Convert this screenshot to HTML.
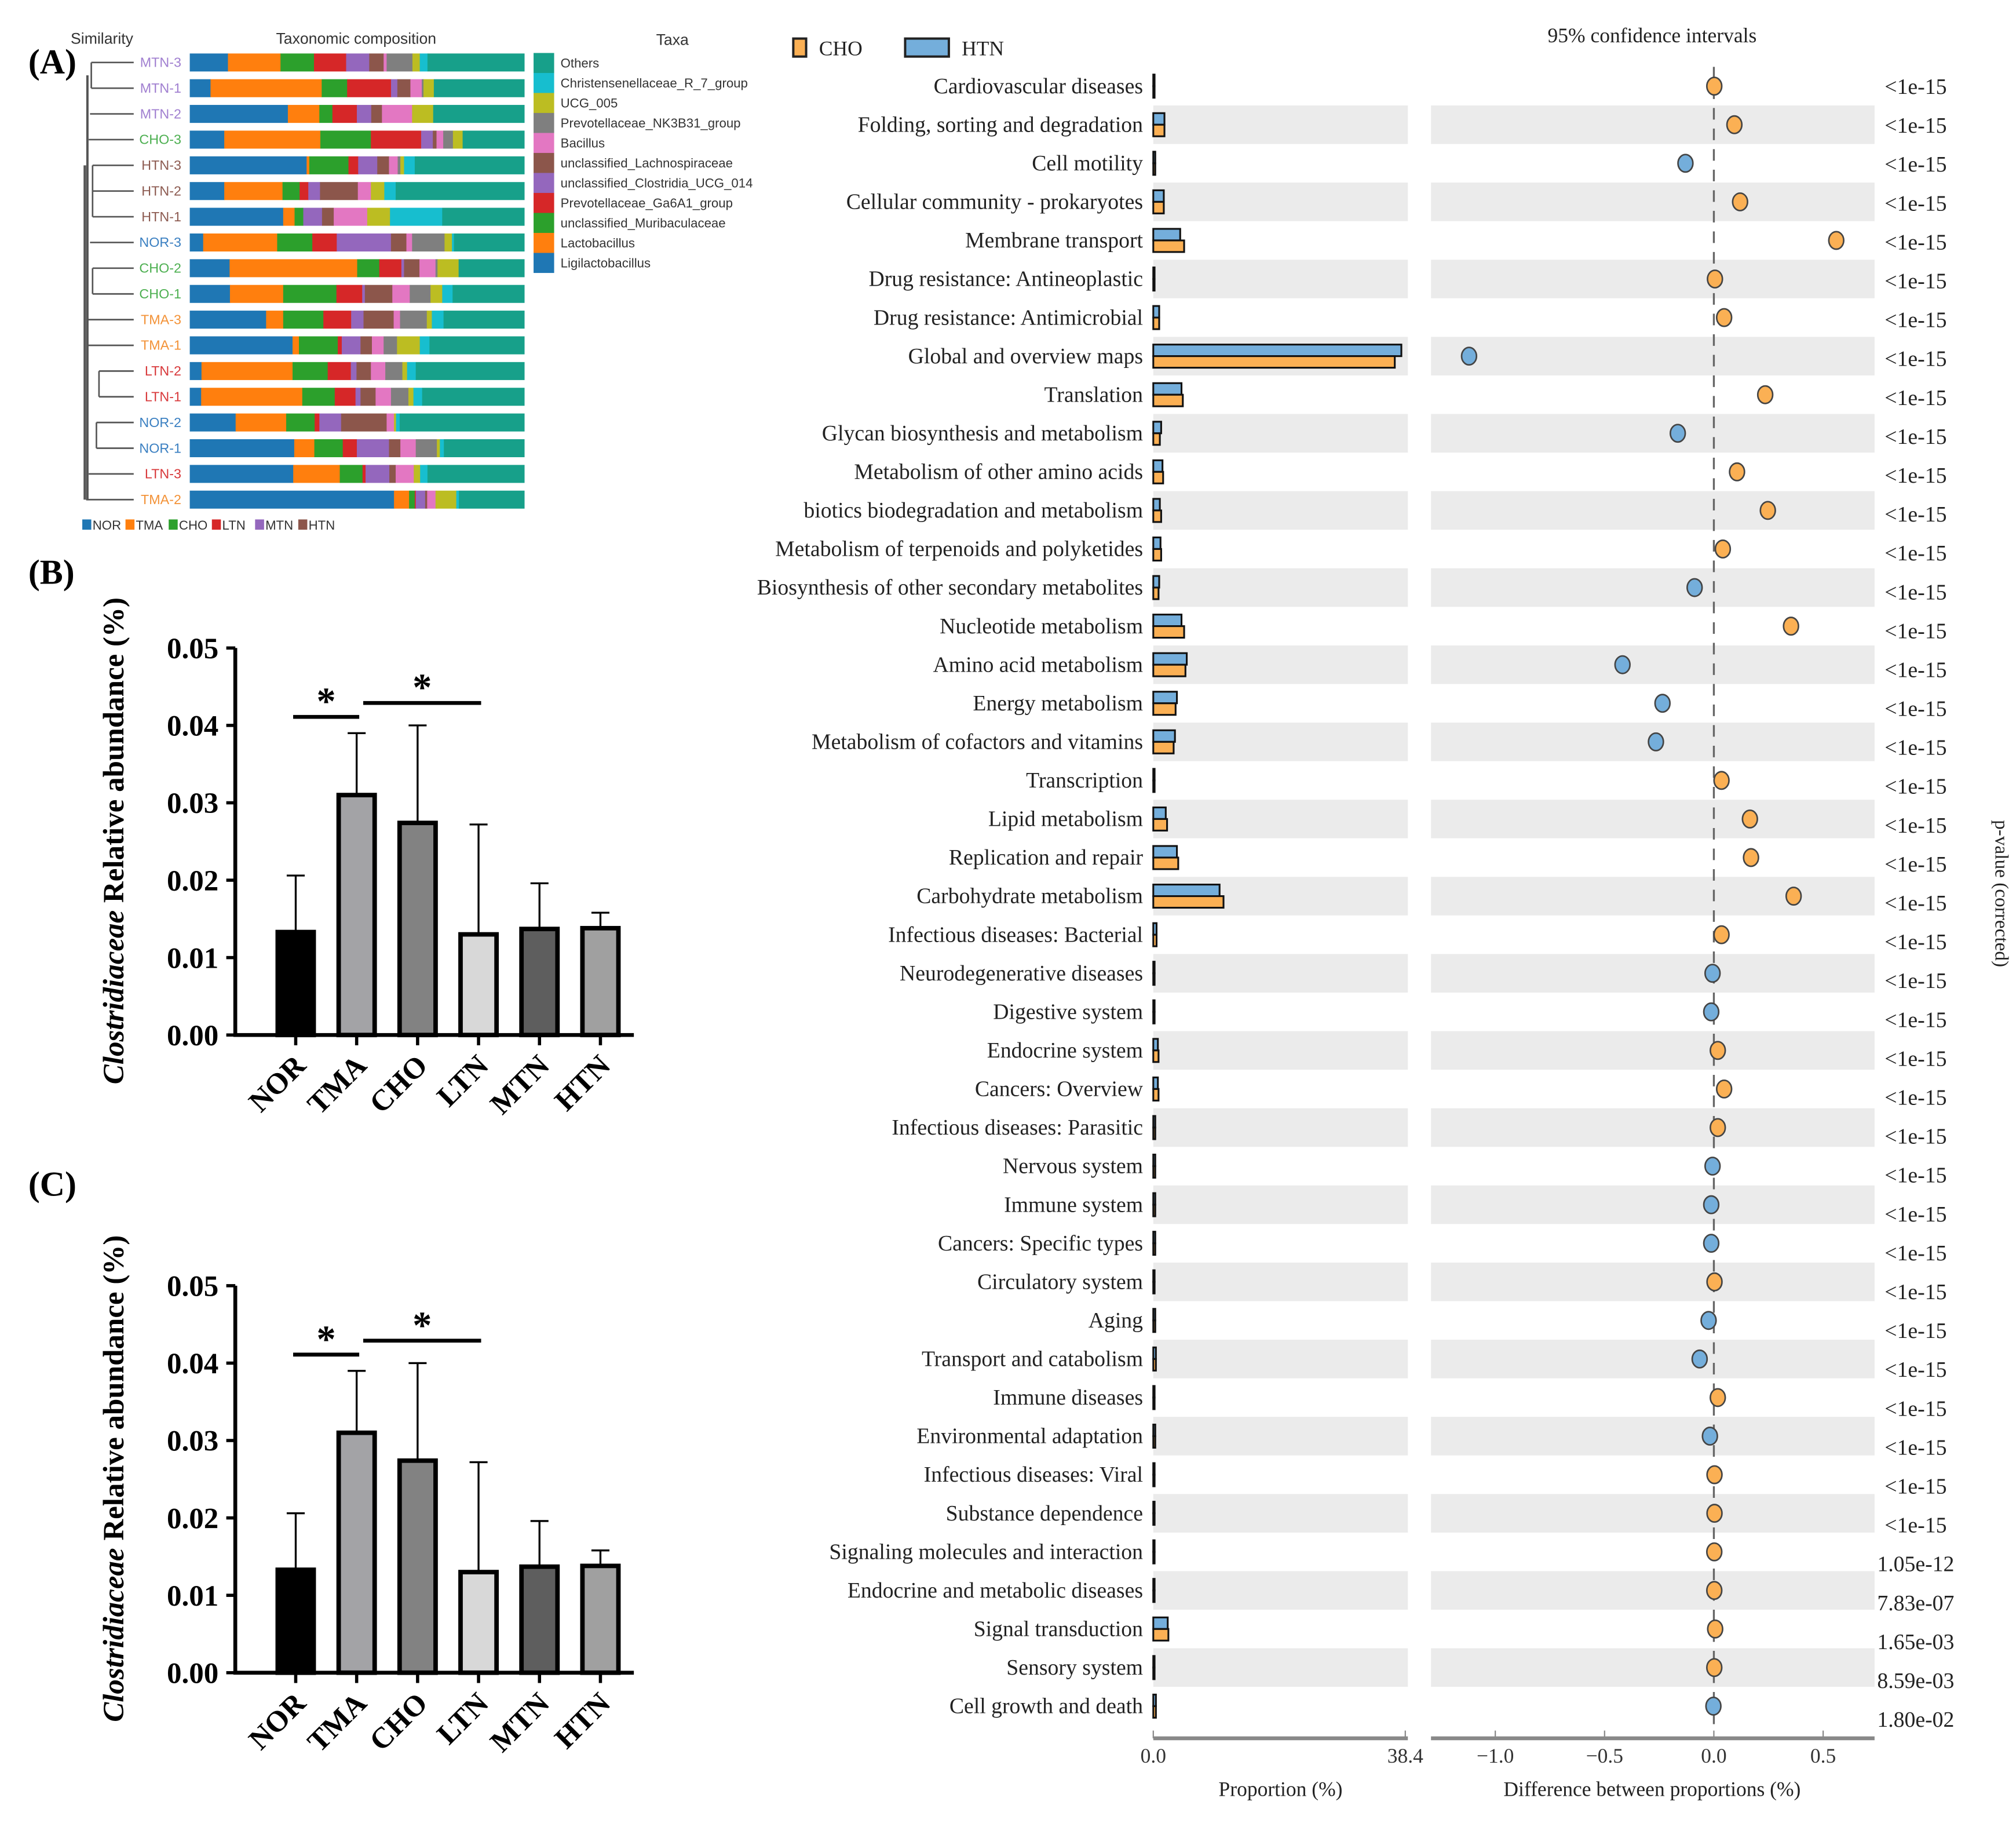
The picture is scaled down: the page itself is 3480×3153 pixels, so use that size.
<!DOCTYPE html>
<html><head><meta charset="utf-8"><style>
html,body{margin:0;padding:0;background:#fff;}
svg{display:block;}
text{font-family:"Liberation Serif",serif;}
.sans{font-family:"Liberation Sans",sans-serif;}
</style></head><body>
<svg id="fig" xmlns="http://www.w3.org/2000/svg" width="3480" height="3153" viewBox="0 0 1568 1421" preserveAspectRatio="none">
<rect x="0" y="0" width="1568" height="1421" fill="#fff"/>
<text x="22" y="57" font-size="27" font-weight="bold">(A)</text>
<text x="22" y="454" font-size="27" font-weight="bold">(B)</text>
<text x="22" y="930" font-size="27" font-weight="bold">(C)</text>
<text class="sans" x="55" y="34" font-size="12" fill="#333">Similarity</text>
<text class="sans" x="277" y="34" font-size="12" fill="#333" text-anchor="middle">Taxonomic composition</text>
<text class="sans" x="523" y="35" font-size="12" fill="#333" text-anchor="middle">Taxa</text>
<g id="panelA"></g>
<g id="panelB"></g>
<g id="panelC"></g>
<g id="panelD"></g>
</svg>
<script>
// ---------- Panel A data ----------
const samples = ["MTN-3","MTN-1","MTN-2","CHO-3","HTN-3","HTN-2","HTN-1","NOR-3","CHO-2","CHO-1","TMA-3","TMA-1","LTN-2","LTN-1","NOR-2","NOR-1","LTN-3","TMA-2"];
const taxa = ["Ligilactobacillus","Lactobacillus","unclassified_Muribaculaceae","Prevotellaceae_Ga6A1_group","unclassified_Clostridia_UCG_014","unclassified_Lachnospiraceae","Bacillus","Prevotellaceae_NK3B31_group","UCG_005","Christensenellaceae_R_7_group"];
const taxaColors = ["#1f77b4","#ff7f0e","#2ca02c","#d62728","#9467bd","#8c564b","#e377c2","#7f7f7f","#bcbd22","#17becf"];
const othersColor = "#17a08a";
const abund = [
 [11.4,15.7,10.0,9.6,6.9,4.3,0.9,7.7,2.2,2.3],
 [6.2,33.2,7.6,13.1,1.9,3.9,3.4,0.5,3.1,0],
 [29.3,9.4,3.9,7.3,4.3,3.2,9.0,0,6.3,0],
 [10.3,28.7,15.1,15.0,3.5,1.1,2.0,2.9,2.9,0],
 [34.9,0.8,11.7,2.9,5.7,3.5,2.6,0.8,1.1,3.2],
 [10.3,17.4,5.1,2.6,3.5,11.3,3.9,0,4.0,3.4],
 [27.9,3.4,2.6,0,5.6,3.5,10.0,0,6.8,15.6],
 [4.0,22.1,10.5,7.3,16.2,4.6,1.7,9.7,2.2,0.6],
 [11.9,38.1,6.6,6.6,0.8,4.6,4.8,0.6,6.3,0],
 [12.0,15.9,15.9,7.7,0.8,8.2,5.2,6.2,3.5,3.1],
 [22.8,5.1,12.0,8.3,3.7,9.0,1.9,8.0,1.5,3.5],
 [30.7,1.9,11.6,1.2,5.6,3.4,3.5,4.0,6.8,2.9],
 [3.5,27.2,10.5,6.9,1.7,4.3,4.3,5.1,1.4,2.6],
 [3.4,30.2,9.7,6.2,1.5,4.5,4.6,5.2,1.5,2.6],
 [13.7,15.1,8.5,1.4,6.5,13.6,2.2,0,0.6,1.1],
 [31.2,6.0,8.5,4.2,9.6,3.4,4.6,6.3,0.9,1.2],
 [30.9,13.9,6.8,0.9,7.1,1.9,5.4,0,1.9,2.2],
 [61.0,4.5,1.7,0.3,2.8,0.6,2.5,0,6.2,0.8]
];
const groupColors = {NOR:"#3a7fc1",TMA:"#f39237",CHO:"#4caf50",LTN:"#d8383a",MTN:"#a07fd0",HTN:"#8c5a50"};
const groups = ["NOR","TMA","CHO","LTN","MTN","HTN"];

const NS = "http://www.w3.org/2000/svg";
function mk(tag, attrs, parent){ const e=document.createElementNS(NS,tag); for(const k in attrs) e.setAttribute(k,attrs[k]); if(parent) parent.appendChild(e); return e; }

(function(){
 const g=document.getElementById('panelA');
 const x0=147.6, W=260.4, rowY=i=>48.6+i*20, bh=14;
 samples.forEach((s,i)=>{
  const yc=rowY(i);
  let x=x0;
  const row=abund[i];
  row.forEach((v,j)=>{
   const w=v/100*W;
   if(w>0){
    const r=mk('rect',{x:x,y:yc-bh/2,width:w+0.3,height:bh,fill:taxaColors[j]},g);
    
    
   }
   x+=w;
  });
  const ro=mk('rect',{x:x,y:yc-bh/2,width:Math.max(0,x0+W-x),height:bh,fill:othersColor},g);
  
  
  const t=mk('text',{x:141,y:yc+3.5,'font-size':10.5,'text-anchor':'end',fill:groupColors[s.slice(0,3)],class:'sans'},g);
  t.textContent=s;
  
  
 });
 const tree=mk('g',{stroke:'#555','stroke-width':1.2,fill:'none'},g);
 
 
 const joins=[71,71,70,69,72,72,72,70,72,72,68,68,77,77,75,75,69,67];
 samples.forEach((s,i)=>{ mk('line',{x1:joins[i],y1:rowY(i),x2:104,y2:rowY(i)},tree); });
 const pairs=[[0,1,71],[4,6,72],[8,9,72],[12,13,77],[14,15,75]];
 pairs.forEach(p=>mk('line',{x1:p[2],y1:rowY(p[0]),x2:p[2],y2:rowY(p[1])},tree));
 mk('line',{x1:68,y1:rowY(0.5),x2:68,y2:rowY(17),'stroke-width':1.8},tree);
 mk('line',{x1:66,y1:rowY(4),x2:66,y2:rowY(17),'stroke-width':2},tree);
 const leg=['Others'].concat(taxa.slice().reverse());
 const legC=[othersColor].concat(taxaColors.slice().reverse());
 leg.forEach((n,k)=>{
  const y=49+k*15.55;
  const r=mk('rect',{x:415,y:y-7.8,width:16,height:15.6,fill:legC[k]},g);
  
  
  const t=mk('text',{x:436,y:y+3.5,'font-size':10,fill:'#333',class:'sans'},g);
  t.textContent=n;
  
  
 });
 let gx=64;
 groups.forEach(gr=>{
  const r=mk('rect',{x:gx,y:404,width:7,height:8,fill:taxaColors[groups.indexOf(gr)]},g);
  
  
  const t=mk('text',{x:gx+8,y:412,'font-size':10,fill:'#333',class:'sans'},g);
  t.textContent=gr;
  
  
  gx+= gr.length*7.2+12;
 });
})();

// ---------- Panels B & C data ----------
const barCats = ["NOR","TMA","CHO","LTN","MTN","HTN"];
const barMeans = [0.0133,0.0310,0.0274,0.0130,0.0137,0.0138];
const barErrs = [0.0073,0.0080,0.0126,0.0142,0.0059,0.0020];
const barFills = ["#000000","#a3a3a6","#828282","#d8d8d8","#5e5e5e","#a0a0a0"];
const yTicks = [0,0.01,0.02,0.03,0.04,0.05];
const sigPairs = [[0,1,0.0411],[1.15,3,0.0429]];

function drawBars(gid, top, name){
 const g=document.getElementById(gid);
 const y0=top+301, ppu=301/0.05;
 const Y=v=>y0-v*ppu;
 const X=i=>230+i*47.4;
 const ax=mk('path',{d:`M183,${Y(0.05)} V${y0} H493`,stroke:'#000','stroke-width':3,fill:'none'},g);
 
 
 yTicks.forEach(v=>{
  mk('line',{x1:176,y1:Y(v),x2:183,y2:Y(v),stroke:'#000','stroke-width':2.5},g);
  const t=mk('text',{x:170,y:Y(v)+8,'font-size':23,'font-weight':'bold','text-anchor':'end'},g);
  t.textContent=v.toFixed(2);
  
  
 });
 barCats.forEach((c,i)=>{
  const x=X(i);
  const e=mk('path',{d:`M${x},${Y(barMeans[i])} V${Y(barMeans[i]+barErrs[i])} M${x-7},${Y(barMeans[i]+barErrs[i])} H${x+7}`,stroke:'#000','stroke-width':1.5,fill:'none'},g);
  
  
  const r=mk('rect',{x:x-14,y:Y(barMeans[i]),width:28,height:y0-Y(barMeans[i]),fill:barFills[i],stroke:'#000','stroke-width':3.5},g);
  
  
  mk('line',{x1:x,y1:y0,x2:x,y2:y0+8,stroke:'#000','stroke-width':2.5},g);
  const t=mk('text',{x:x+9,y:y0+25,'font-size':23,'font-weight':'bold','text-anchor':'end',transform:`rotate(-45 ${x+9} ${y0+25})`},g);
  t.textContent=c;
  
  
 });
 sigPairs.forEach((p,k)=>{
  const xa=X(p[0])-2, xb=X(p[1])+2, y=Y(p[2]);
  const l=mk('line',{x1:xa,y1:y,x2:xb,y2:y,stroke:'#000','stroke-width':3},g);
  
  
  const s=mk('text',{x:(xa+xb)/2,y:y-2,'font-size':30,'font-weight':'bold','text-anchor':'middle'},g);
  s.textContent='*';
  
  
 });
 const tt=mk('text',{x:0,y:0,'font-size':23,'font-weight':'bold','text-anchor':'middle',transform:`translate(96 ${top+150}) rotate(-90)`},g);
 
 
 const ts=mk('tspan',{'font-style':'italic'},tt); ts.textContent='Clostridiaceae';
 const ts2=mk('tspan',{},tt); ts2.textContent=' Relative abundance (%)';
}
drawBars('panelB',504,'panel-b');
drawBars('panelC',1000,'panel-c');

// ---------- Panel D data ----------
const pathways = ["Cardiovascular diseases","Folding, sorting and degradation","Cell motility","Cellular community - prokaryotes","Membrane transport","Drug resistance: Antineoplastic","Drug resistance: Antimicrobial","Global and overview maps","Translation","Glycan biosynthesis and metabolism","Metabolism of other amino acids","biotics biodegradation and metabolism","Metabolism of terpenoids and polyketides","Biosynthesis of other secondary metabolites","Nucleotide metabolism","Amino acid metabolism","Energy metabolism","Metabolism of cofactors and vitamins","Transcription","Lipid metabolism","Replication and repair","Carbohydrate metabolism","Infectious diseases: Bacterial","Neurodegenerative diseases","Digestive system","Endocrine system","Cancers: Overview","Infectious diseases: Parasitic","Nervous system","Immune system","Cancers: Specific types","Circulatory system","Aging","Transport and catabolism","Immune diseases","Environmental adaptation","Infectious diseases: Viral","Substance dependence","Signaling molecules and interaction","Endocrine and metabolic diseases","Signal transduction","Sensory system","Cell growth and death"];
const htnProp = [0.05,1.7,0.3,1.6,4.1,0.1,0.9,37.8,4.3,1.2,1.4,1.0,1.1,0.9,4.3,5.1,3.6,3.3,0.2,1.9,3.6,10.1,0.5,0.2,0.2,0.7,0.7,0.3,0.3,0.3,0.3,0.2,0.3,0.4,0.2,0.3,0.2,0.2,0.2,0.2,2.2,0.1,0.4];
const choProp = [0.05,1.7,0.3,1.6,4.7,0.1,0.9,36.8,4.5,1.0,1.5,1.2,1.2,0.8,4.7,4.9,3.4,3.1,0.2,2.1,3.8,10.7,0.5,0.2,0.2,0.8,0.8,0.3,0.3,0.3,0.3,0.2,0.3,0.4,0.2,0.3,0.2,0.2,0.2,0.2,2.3,0.1,0.4];
const diffs = [0.002,0.094,-0.13,0.12,0.56,0.005,0.047,-1.12,0.235,-0.165,0.106,0.247,0.041,-0.088,0.353,-0.418,-0.235,-0.265,0.035,0.165,0.17,0.365,0.035,-0.006,-0.012,0.018,0.047,0.018,-0.006,-0.012,-0.012,0.003,-0.024,-0.065,0.018,-0.018,0.003,0.003,0.002,0.002,0.006,0.002,-0.002];
const pvals = Array(38).fill("<1e-15").concat(["1.05e-12","7.83e-07","1.65e-03","8.59e-03","1.80e-02"]);
const propTicks = [0,38.4];
const diffTicks = [-1.0,-0.5,0.0,0.5];

(function(){
 const g=document.getElementById('panelD');
 const ORANGE='#fbb054', BLUE='#74aedb';
 const rowY=i=>67+i*30;
 const PX=v=>897+v*(196/38.4);
 const DX=v=>1333+v*170;
 pathways.forEach((p,i)=>{
  if(i%2===1){
   const b1=mk('rect',{x:897,y:rowY(i)-15,width:198,height:30,fill:'#ebebeb'},g);
   
   
   const b2=mk('rect',{x:1113,y:rowY(i)-15,width:345,height:30,fill:'#ebebeb'},g);
   
   
  }
 });
 const zl=mk('line',{x1:DX(0),y1:52,x2:DX(0),y2:1345,stroke:'#666','stroke-width':1.5,'stroke-dasharray':'9,7'},g);
 
 
 pathways.forEach((p,i)=>{
  const y=rowY(i);
  const t=mk('text',{x:889,y:y+5.5,'font-size':17,'text-anchor':'end',fill:'#222'},g);
  t.textContent=p;
  
  
  const rb=mk('rect',{x:PX(0),y:y-9,width:Math.max(1,PX(htnProp[i])-PX(0)),height:9,fill:BLUE,stroke:'#111','stroke-width':1.4},g);
  
  
  const ro=mk('rect',{x:PX(0),y:y,width:Math.max(1,PX(choProp[i])-PX(0)),height:9,fill:ORANGE,stroke:'#111','stroke-width':1.4},g);
  
  
  const c=mk('ellipse',{cx:DX(diffs[i]),cy:y,rx:5.8,ry:6.8,fill:diffs[i]>=0?ORANGE:BLUE,stroke:'#444','stroke-width':1.2},g);
  
  
  const pv=mk('text',{x:1490,y:67+i*30.24+6,'font-size':17,'text-anchor':'middle',fill:'#222'},g);
  pv.textContent=pvals[i];
  
  
 });
 const a1=mk('line',{x1:897,y1:1352,x2:1095,y2:1352,stroke:'#888','stroke-width':3},g);
 
 
 const a2=mk('line',{x1:1113,y1:1352,x2:1458,y2:1352,stroke:'#888','stroke-width':3},g);
 
 
 propTicks.forEach(v=>{
  mk('line',{x1:PX(v),y1:1346,x2:PX(v),y2:1352,stroke:'#888','stroke-width':1},g);
  const t=mk('text',{x:PX(v),y:1371,'font-size':16,'text-anchor':'middle',fill:'#333'},g);
  t.textContent=v.toFixed(1);
  
  
 });
 diffTicks.forEach(v=>{
  mk('line',{x1:DX(v),y1:1346,x2:DX(v),y2:1352,stroke:'#888','stroke-width':1},g);
  const t=mk('text',{x:DX(v),y:1371,'font-size':16,'text-anchor':'middle',fill:'#333'},g);
  t.textContent=(v<0?'\u2212':'')+Math.abs(v).toFixed(1);
  
  
 });
 const x1t=mk('text',{x:996,y:1397,'font-size':16,'text-anchor':'middle',fill:'#222'},g);
 x1t.textContent='Proportion (%)';
 
 
 const x2t=mk('text',{x:1285,y:1397,'font-size':16,'text-anchor':'middle',fill:'#222'},g);
 x2t.textContent='Difference between proportions (%)';
 
 
 const ci=mk('text',{x:1285,y:33,'font-size':16,'text-anchor':'middle',fill:'#222'},g);
 ci.textContent='95% confidence intervals';
 
 
 const pt=mk('text',{x:0,y:0,'font-size':15,'text-anchor':'middle',fill:'#222',transform:'translate(1552 695) rotate(90)'},g);
 pt.textContent='p-value (corrected)';
 
 
 const l1=mk('rect',{x:617,y:30,width:10,height:14,fill:ORANGE,stroke:'#222','stroke-width':1.8},g);
 
 
 const l1t=mk('text',{x:637,y:43,'font-size':16,fill:'#222'},g);
 l1t.textContent='CHO';
 
 
 const l2=mk('rect',{x:704,y:30,width:34,height:14,fill:BLUE,stroke:'#222','stroke-width':1.8},g);
 
 
 const l2t=mk('text',{x:748,y:43,'font-size':16,fill:'#222'},g);
 l2t.textContent='HTN';
 
 
})();
</script>
</body></html>
